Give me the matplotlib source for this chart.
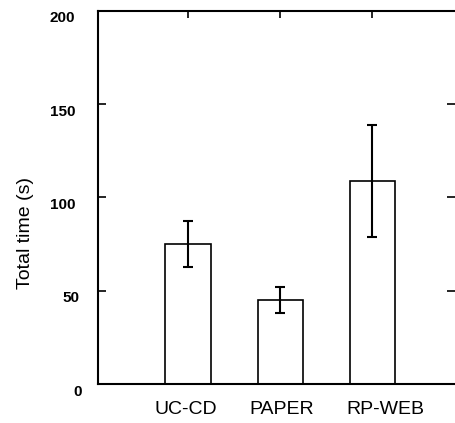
import matplotlib
matplotlib.use("Agg")
import matplotlib.pyplot as plt
import matplotlib.transforms as mtransforms

categories = ["UC-CD", "PAPER", "RP-WEB"]
means = [75, 45, 109]
errors = [12.5, 7, 30]
yticks = [0, 50, 100, 150, 200]

plt.rcParams['font.family'] = ['Liberation Sans', 'DejaVu Sans']

fig = plt.figure(figsize=(4.55, 4.23), dpi=100)
ax = fig.add_axes([98/455, 39/423, 1 - 98/455, 373/423])

x = list(range(len(categories)))
ax.bar(x, means, width=0.49, color='white', edgecolor='black', linewidth=1.2, zorder=2)
ax.errorbar(x, means, yerr=errors, fmt='none', ecolor='black', elinewidth=1.5,
            capsize=3.5, capthick=1.5, zorder=3)

ax.set_xlim(-0.978, 2.90)
ax.set_ylim(0, 200)
ax.set_yticks(yticks)
ax.set_yticklabels([str(v) for v in yticks], fontsize=11, fontweight='bold')
ax.set_xticks(x)
ax.set_xticklabels(categories, fontsize=14)

for side in ['left', 'bottom', 'top']:
    ax.spines[side].set_linewidth(1.5)
ax.spines['right'].set_visible(False)

ax.tick_params(axis='y', which='both', direction='in', length=6, width=1.2,
               left=True, right=True, pad=16.5)
ax.tick_params(axis='x', which='both', direction='in', length=5, width=1.2,
               bottom=True, top=True, pad=12)

# shift tick labels slightly as in reference
yoffs = [7, 4, 0, 0, 0]
for lab, o in zip(ax.get_yticklabels(), yoffs):
    lab.set_transform(lab.get_transform() + mtransforms.ScaledTranslation(o/100, -6/100, fig.dpi_scale_trans))
offs = [-2, 2, 13]
for lab, o in zip(ax.get_xticklabels(), offs):
    lab.set_transform(lab.get_transform() + mtransforms.ScaledTranslation(o/100, 0, fig.dpi_scale_trans))

fig.text(25/455, 1 - 233/423, "Total time (s)", rotation=90, fontsize=14,
         ha='center', va='center')

fig.savefig("out.png", dpi=100)
